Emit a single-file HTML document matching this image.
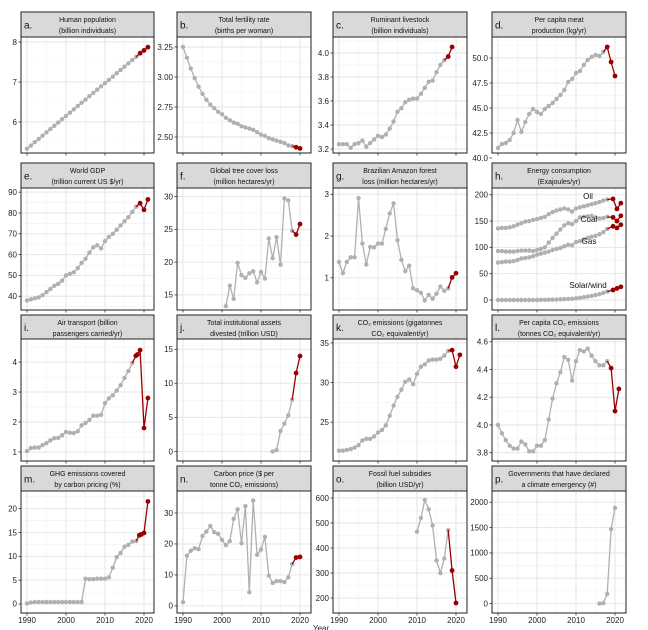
<!DOCTYPE html><html><head><meta charset="utf-8"><style>
html,body{margin:0;padding:0;background:#fff;width:648px;height:630px;overflow:hidden}
svg text{font-family:"Liberation Sans",sans-serif}
</style></head><body>
<svg id="s" width="648" height="630" xmlns="http://www.w3.org/2000/svg"></svg>
<script>
const cols=[[21,154],[177,311],[333,467],[492,626]];
const rows=[[12,37,153],[163,188,310],[315,339,461],[466,491,613]];
function lin(a,b,n){let r=[];for(let i=0;i<n;i++)r.push(a+(b-a)*i/(n-1));return r;}
const P=[
{L:'a.',t:['Human population','(billion individuals)'],ymin:5.225,ymax:8.125,ticks:[6,7,8],f:0,
 s:[{y0:1990,v:lin(5.33,7.63,29),red:[[2019,7.72],[2020,7.79],[2021,7.87]]}]},
{L:'b.',t:['Total fertility rate','(births per woman)'],ymin:2.367,ymax:3.333,ticks:[2.5,2.75,3,3.25],f:2,
 s:[{y0:1990,v:[3.25,3.16,3.07,2.99,2.92,2.86,2.81,2.77,2.74,2.71,2.69,2.66,2.64,2.62,2.61,2.59,2.58,2.57,2.56,2.54,2.52,2.51,2.49,2.48,2.47,2.46,2.45,2.43,2.425],red:[[2019,2.415],[2020,2.405]]}]},
{L:'c.',t:['Ruminant livestock','(billion individuals)'],ymin:3.167,ymax:4.133,ticks:[3.2,3.4,3.6,3.8,4.0],f:1,
 s:[{y0:1990,v:[3.24,3.24,3.24,3.21,3.24,3.25,3.27,3.22,3.25,3.28,3.31,3.30,3.32,3.37,3.43,3.51,3.54,3.59,3.61,3.62,3.62,3.66,3.71,3.76,3.77,3.84,3.90,3.94],red:[[2018,3.97],[2019,4.05]]}]},
{L:'d.',t:['Per capita meat','production (kg/yr)'],ymin:40.5,ymax:52.1,ticks:[40,42.5,45,47.5,50],f:1,
 s:[{y0:1990,v:[41.0,41.4,41.5,41.8,42.5,43.8,42.6,43.6,44.4,44.9,44.6,44.4,44.9,45.2,45.5,45.9,46.3,46.8,47.6,47.9,48.5,48.7,49.3,49.8,50.1,50.3,50.2,50.6],red:[[2018,51.1],[2019,49.6],[2020,48.2]]}]},
{L:'e.',t:['World GDP','(trillion current US $/yr)'],ymin:33.4,ymax:92,ticks:[40,50,60,70,80,90],f:0,
 s:[{y0:1990,v:[38,38.5,39,39.5,40.5,42,43.5,45,46,47.5,50,50.8,51.5,53.5,56,58,61,63.5,64.5,63,66.5,68.5,70,72,74,76,78,80.5,83],red:[[2019,84.7],[2020,81.5],[2021,86.5]]}]},
{L:'f.',t:['Global tree cover loss','(million hectares/yr)'],ymin:12.7,ymax:31.3,ticks:[15,20,25,30],f:0,
 s:[{y0:2001,v:[13.3,16.4,14.4,19.9,18.0,17.6,18.3,18.6,16.9,18.5,17.5,23.6,20.6,23.8,19.6,29.7,29.4,24.8],red:[[2019,24.2],[2020,25.8]]}]},
{L:'g.',t:['Brazilian Amazon forest','loss (million hectares/yr)'],ymin:0.23,ymax:3.15,ticks:[1,2,3],f:0,
 s:[{y0:1990,v:[1.38,1.11,1.38,1.49,1.49,2.91,1.82,1.32,1.74,1.73,1.82,1.82,2.17,2.54,2.78,1.90,1.43,1.16,1.29,0.75,0.70,0.64,0.46,0.59,0.50,0.62,0.79,0.69,0.75],red:[[2019,1.01],[2020,1.11]]}]},
{L:'h.',t:['Energy consumption','(Exajoules/yr)'],ymin:-19,ymax:212.8,ticks:[0,50,100,150,200],f:0,
 s:[{y0:1990,v:[136,137,137,138,140,143,146,149,150,152,154,156,158,163,167,170,172,174,172,168,174,176,178,180,182,184,186,189,191],red:[[2019.5,192],[2020.5,173],[2021.5,184]]},
 {y0:1990,v:[93,93,92,92,92,93,94,94,94,93,95,97,100,109,118,126,134,142,146,144,150,157,158,159,160,157,155,156,158],red:[[2019.5,157],[2020.5,150],[2021.5,160]]},
 {y0:1990,v:[71,72,73,73,74,76,79,80,81,83,86,88,90,92,95,97,99,102,105,104,110,112,115,118,120,122,125,129,135],red:[[2019.5,140],[2020.5,137],[2021.5,143]]},
 {y0:1990,v:[0,0,0,0,0,0,0,0,0,0,0.2,0.3,0.4,0.5,0.7,0.9,1.2,1.5,2,2.5,3.2,4.2,5.3,6.5,7.8,9.3,11,13.5,16],red:[[2019.5,19],[2020.5,22],[2021.5,25]]}],
 lab:[['Oil',588,199],['Coal',589,222],['Gas',589,244],['Solar/wind',588,288]]},
{L:'i.',t:['Air transport (billion','passengers carried/yr)'],ymin:0.7,ymax:4.77,ticks:[1,2,3,4],f:0,
 s:[{y0:1990,v:[1.03,1.13,1.15,1.15,1.23,1.30,1.39,1.46,1.47,1.56,1.67,1.64,1.63,1.69,1.89,1.97,2.07,2.21,2.21,2.24,2.63,2.79,2.89,3.05,3.23,3.47,3.70,3.97],red:[[2017.9,4.21],[2018.3,4.25],[2019,4.4],[2020,1.8],[2021,2.8]]}]},
{L:'j.',t:['Total institutional assets','divested (trillion USD)'],ymin:-1.4,ymax:16.5,ticks:[0,5,10,15],f:0,
 s:[{y0:2013,v:[0.0,0.2,3.0,4.1,5.3,7.6],red:[[2019,11.5],[2020,14.0]]}]},
{L:'k.',t:['CO₂ emissions (gigatonnes','CO₂ equivalent/yr)'],ymin:20.1,ymax:35.5,ticks:[25,30,35],f:0,
 s:[{y0:1990,v:[21.4,21.4,21.5,21.6,21.8,22.1,22.7,22.9,22.9,23.2,23.7,24.0,24.6,25.8,27.1,28.2,29.1,30.1,30.4,29.8,31.1,32.0,32.3,32.8,32.9,32.9,33.0,33.4,34.0],red:[[2019,34.1],[2020,32.0],[2021,33.5]]}]},
{L:'l.',t:['Per capita CO₂ emissions','(tonnes CO₂ equivalent/yr)'],ymin:3.74,ymax:4.62,ticks:[3.8,4.0,4.2,4.4,4.6],f:1,
 s:[{y0:1990,v:[4.00,3.94,3.89,3.85,3.83,3.83,3.88,3.86,3.81,3.81,3.85,3.85,3.89,4.04,4.19,4.30,4.38,4.49,4.47,4.32,4.46,4.54,4.53,4.55,4.50,4.46,4.43,4.43,4.46],red:[[2019,4.41],[2020,4.10],[2021,4.26]]}]},
{L:'m.',t:['GHG emissions covered','by carbon pricing (%)'],ymin:-1.9,ymax:23.7,ticks:[0,5,10,15,20],f:0,
 s:[{y0:1990,v:[0.1,0.3,0.4,0.4,0.4,0.4,0.4,0.4,0.4,0.4,0.4,0.4,0.4,0.4,0.4,5.3,5.2,5.2,5.3,5.3,5.3,5.6,7.6,9.8,10.7,12.0,12.4,13.1,13.2],red:[[2018.8,14.4],[2019.3,14.6],[2020,14.9],[2021,21.5]]}]},
{L:'n.',t:['Carbon price ($ per','tonne CO₂ emissions)'],ymin:-2.3,ymax:37.1,ticks:[0,10,20,30],f:0,
 s:[{y0:1990,v:[1.2,16.2,17.8,18.6,18.3,22.6,24.0,25.8,23.8,23.3,21.3,19.6,20.9,28.1,31.2,20.2,32.2,4.4,34.0,16.5,18.2,22.3,9.8,7.4,8.0,8.0,7.7,9.2,13.5],red:[[2019,15.6],[2020,15.8]]}]},
{L:'o.',t:['Fossil fuel subsidies','(billion USD/yr)'],ymin:140,ymax:628,ticks:[200,300,400,500,600],f:0,
 s:[{y0:2010,v:[465,520,592,555,490,350,300,358,472],red:[[2019,310],[2020,180]]}]},
{L:'p.',t:['Governments that have declared','a climate emergency (#)'],ymin:-185,ymax:2222,ticks:[0,500,1000,1500,2000],f:0,
 s:[{y0:2016,v:[0,10,190,1470,1890],red:[]}]}
];
let o='';
const G='#b0b0b0',R='#990000';
P.forEach((p,i)=>{
 const [l,r]=cols[i%4],[st,pt,pb]=rows[Math.floor(i/4)];
 const X=yr=>l+6+(yr-1990)*3.9, Y=v=>pt+(p.ymax-v)/(p.ymax-p.ymin)*(pb-pt);
 o+=`<rect x="${l}" y="${pt}" width="${r-l}" height="${pb-pt}" fill="#fff"/>`;
 const step=p.ticks[1]-p.ticks[0];
 for(let k=-1;k<p.ticks.length;k++){const v=p.ticks[0]+(k+0.5)*step,y=Y(v);if(y>pt&&y<pb)o+=`<line x1="${l}" x2="${r}" y1="${y}" y2="${y}" stroke="#f2f2f2" stroke-width="0.6"/>`;}
 for(let yr=1985;yr<=2025;yr+=10){const x=X(yr);if(x>l&&x<r)o+=`<line y1="${pt}" y2="${pb}" x1="${x}" x2="${x}" stroke="#f2f2f2" stroke-width="0.6"/>`;}
 p.ticks.forEach(v=>{const y=Y(v);if(y>=pt-0.5&&y<=pb+6){if(y<pb)o+=`<line x1="${l}" x2="${r}" y1="${y}" y2="${y}" stroke="#e6e6e6" stroke-width="1"/>`;
  o+=`<line x1="${l-2.5}" x2="${l}" y1="${y}" y2="${y}" stroke="#333" stroke-width="0.8"/><text x="${l-4}" y="${y+2.8}" font-size="8" text-anchor="end" fill="#222">${v.toFixed(p.f)}</text>`;}});
 for(let yr=1990;yr<=2020;yr+=10){const x=X(yr);o+=`<line y1="${pt}" y2="${pb}" x1="${x}" x2="${x}" stroke="#e6e6e6" stroke-width="1"/><line y1="${pb}" y2="${pb+2.5}" x1="${x}" x2="${x}" stroke="#333" stroke-width="0.8"/>`;
  if(i>=12)o+=`<text x="${x}" y="${pb+10}" font-size="8" text-anchor="middle" fill="#222">${yr}</text>`;}
 p.s.forEach(s=>{
  const pts=s.v.map((v,k)=>[X(s.y0+k),Y(v)]);
  o+=`<polyline points="${pts.map(q=>q.join(',')).join(' ')}" fill="none" stroke="${G}" stroke-width="1.3"/>`;
  pts.forEach(q=>o+=`<circle cx="${q[0]}" cy="${q[1]}" r="2.2" fill="${G}"/>`);
  if(s.red.length){const rp=[pts[pts.length-1]].concat(s.red.map(q=>[X(q[0]),Y(q[1])]));
   o+=`<polyline points="${rp.map(q=>q.join(',')).join(' ')}" fill="none" stroke="${R}" stroke-width="1.3"/>`;
   rp.slice(1).forEach(q=>o+=`<circle cx="${q[0]}" cy="${q[1]}" r="2.4" fill="${R}"/>`);}
 });
 if(p.lab)p.lab.forEach(a=>o+=`<text x="${a[1]}" y="${a[2]}" font-size="8" text-anchor="middle" fill="#111">${a[0]}</text>`);
 o+=`<rect x="${l}" y="${pt}" width="${r-l}" height="${pb-pt}" fill="none" stroke="#222" stroke-width="1"/>`;
 o+=`<rect x="${l}" y="${st}" width="${r-l}" height="${pt-st}" fill="#d9d9d9" stroke="#222" stroke-width="1"/>`;
 const cx=(l+r)/2;
 o+=`<text x="${cx}" y="${st+10}" font-size="7" text-anchor="middle" fill="#111">${p.t[0]}</text><text x="${cx}" y="${st+21}" font-size="7" text-anchor="middle" fill="#111">${p.t[1]}</text>`;
 o+=`<text x="${l+3}" y="${(st+pt)/2+4}" font-size="10" fill="#111">${p.L}</text>`;
});
o+=`<text x="313" y="631" font-size="8" fill="#222">Year</text>`;
document.getElementById('s').innerHTML=o;
</script>
</body></html>
